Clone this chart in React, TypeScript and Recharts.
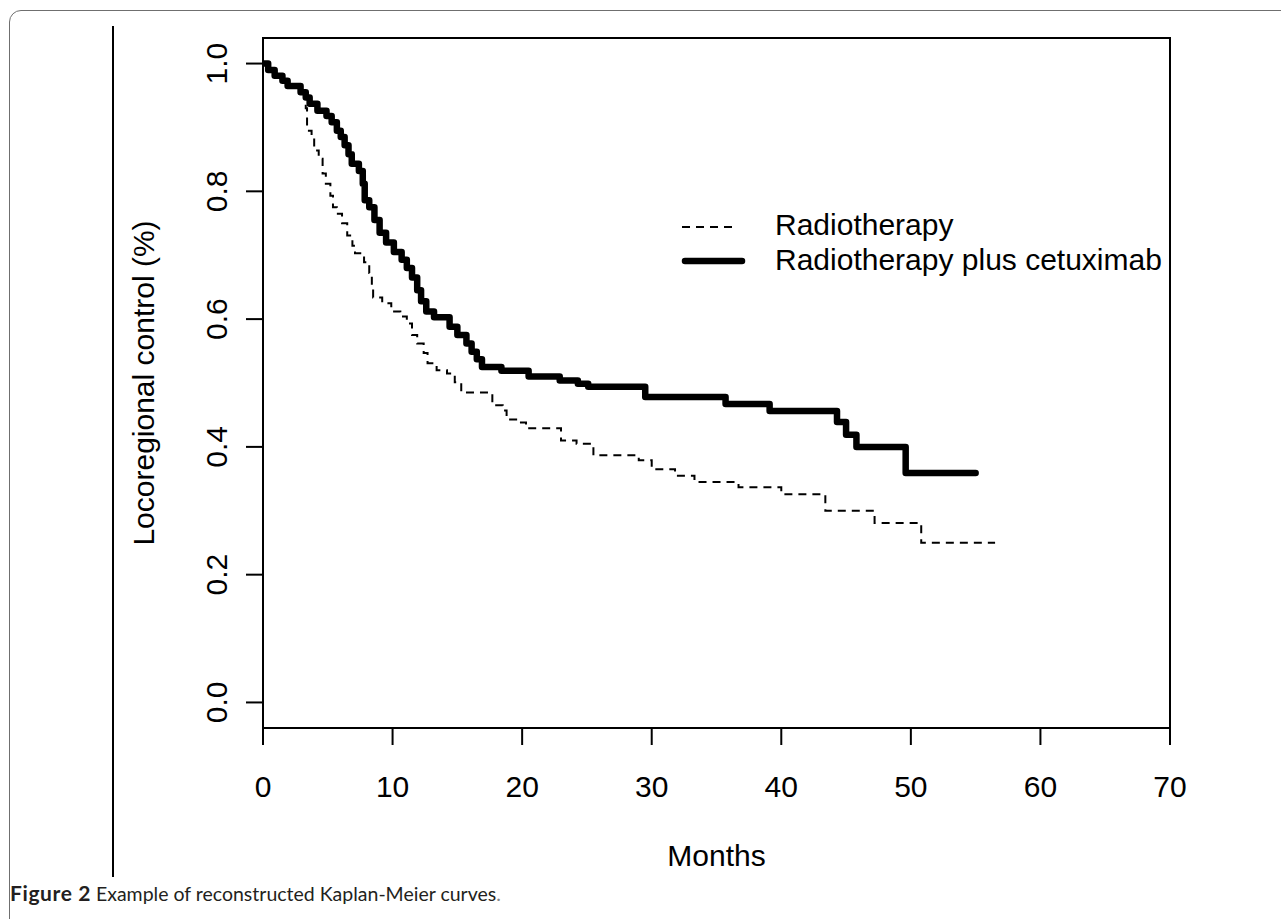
import React from 'react';
import { LineChart, Line, XAxis, YAxis, ReferenceArea, Legend } from 'recharts';

// axis ticks
const xTicks = [0, 10, 20, 30, 40, 50, 60, 70];
const yTicks = [0, 0.2, 0.4, 0.6, 0.8, 1.0];
const seriesNames = ['Radiotherapy', 'Radiotherapy plus cetuximab'];

// Radiotherapy (dashed) – step times (months) and survival after each step
const rtMonths = [
  0, 0.4, 0.9, 1.5, 1.9, 2.9, 3.3, 3.4, 3.75, 3.95, 4.3, 4.6, 4.85, 5.2, 5.4, 5.7, 6.1, 6.5, 6.9,
  7.1, 7.8, 8.2, 8.4, 8.5, 9.2, 9.9, 10.6, 11.1, 11.5, 11.9, 12.4, 12.7, 13.4, 14.2, 14.8, 15.3,
  17.7, 18.5, 18.8, 19.7, 20.3, 23.0, 24.2, 25.5, 29.0, 30.0, 31.8, 33.3, 36.7, 40.0, 43.4, 47.2,
  50.8, 56.5,
];
const rtSurvival = [
  1.0, 0.99, 0.981, 0.973, 0.965, 0.955, 0.93, 0.895, 0.884, 0.864, 0.851, 0.828, 0.812, 0.793,
  0.775, 0.765, 0.75, 0.731, 0.715, 0.703, 0.689, 0.672, 0.65, 0.634, 0.625, 0.612, 0.604, 0.593,
  0.575, 0.562, 0.547, 0.531, 0.52, 0.515, 0.501, 0.485, 0.465, 0.457, 0.443, 0.438, 0.429, 0.41,
  0.405, 0.387, 0.379, 0.365, 0.355, 0.345, 0.337, 0.326, 0.3, 0.281, 0.25, 0.25,
];

// Radiotherapy plus cetuximab (solid)
const cetMonths = [
  0, 0.4, 0.9, 1.5, 1.9, 2.9, 3.3, 3.6, 4.2, 4.9, 5.3, 5.7, 6.0, 6.3, 6.6, 6.85, 7.4, 7.7, 7.85,
  8.2, 8.6, 9.0, 9.5, 10.1, 10.7, 11.1, 11.5, 11.9, 12.2, 12.6, 13.2, 14.4, 15.0, 15.7, 16.1, 16.5,
  16.9, 18.4, 20.5, 22.9, 24.3, 25.1, 29.5, 35.7, 39.1, 44.3, 45.0, 45.8, 49.6, 55.0,
];
const cetSurvival = [
  1.0, 0.99, 0.981, 0.973, 0.965, 0.955, 0.947, 0.937, 0.926, 0.918, 0.908, 0.895, 0.885, 0.872,
  0.858, 0.843, 0.832, 0.812, 0.786, 0.775, 0.755, 0.735, 0.72, 0.705, 0.693, 0.68, 0.665, 0.645,
  0.628, 0.612, 0.603, 0.588, 0.575, 0.562, 0.549, 0.537, 0.525, 0.519, 0.51, 0.504, 0.499, 0.494,
  0.478, 0.467, 0.456, 0.439, 0.419, 0.4, 0.359, 0.359,
];

const toSteps = (months: number[], surv: number[]) =>
  months.map((m, i) => ({ month: m, surv: surv[i] }));

const rtData = toSteps(rtMonths, rtSurvival);
const cetData = toSteps(cetMonths, cetSurvival);

const W = 1281;
const H = 919;
const PLOT_LEFT = 263;
const PLOT_RIGHT = 1170;
const PLOT_TOP = 38;
const PLOT_BOTTOM = 728;
const FONT = '"Liberation Sans", Arial, sans-serif';

const XTick = ({ x, payload }: any) => (
  <text x={x} y={PLOT_BOTTOM + 69} textAnchor="middle" fontSize={30} fontFamily={FONT} fill="#000">
    {payload.value}
  </text>
);

const YTick = ({ y, payload }: any) => {
  const x = PLOT_LEFT - 36;
  return (
    <text x={x} y={y} transform={`rotate(-90 ${x} ${y})`} textAnchor="middle" fontSize={30} fontFamily={FONT} fill="#000">
      {payload.value.toFixed(1)}
    </text>
  );
};

const xTitle = () => (
  <text x={(PLOT_LEFT + PLOT_RIGHT) / 2} y={866} textAnchor="middle" fontSize={30} fontFamily={FONT} fill="#000">
    Months
  </text>
);

const yTitle = () => {
  const x = 154;
  const y = (PLOT_TOP + PLOT_BOTTOM) / 2;
  return (
    <text x={x} y={y} transform={`rotate(-90 ${x} ${y})`} textAnchor="middle" fontSize={30} fontFamily={FONT} fill="#000">
      Locoregional control (%)
    </text>
  );
};

const LEGEND_LEFT = 670;
const LEGEND_TOP = 205;

const KmLegend = () => (
  <svg width={520} height={80} style={{ display: 'block' }}>
    <line x1={12} x2={67} y1={22} y2={22} stroke="#000" strokeWidth={2} strokeDasharray="8 6" />
    <text x={105} y={30} fontSize={30} fontFamily={FONT} fill="#000">{seriesNames[0]}</text>
    <line x1={15} x2={72} y1={56} y2={56} stroke="#000" strokeWidth={6.5} strokeLinecap="round" />
    <text x={105} y={64.5} fontSize={30} fontFamily={FONT} fill="#000">{seriesNames[1]}</text>
  </svg>
);

export default function App() {
  return (
    <div style={{ position: 'fixed', left: 0, top: 0, width: W, height: H, background: '#fff', overflow: 'hidden' }}>
      <div
        style={{
          position: 'absolute', left: 9, top: 10, width: 1320, height: 960,
          border: '1.5px solid #6f6f6f', borderRadius: 12, boxSizing: 'border-box',
        }}
      />
      <div style={{ position: 'absolute', left: 111.5, top: 26, width: 2, height: 851, background: '#000' }} />
      <div style={{ position: 'absolute', left: 0, top: 0 }}>
        <LineChart
          width={W}
          height={H}
          margin={{ top: PLOT_TOP, right: W - PLOT_RIGHT, bottom: H - PLOT_BOTTOM - 100, left: PLOT_LEFT - 100 }}
        >
          <XAxis
            type="number"
            dataKey="month"
            domain={[0, 70]}
            ticks={xTicks}
            allowDataOverflow
            height={100}
            tickSize={17}
            axisLine={{ stroke: '#000', strokeWidth: 2 }}
            tickLine={{ stroke: '#000', strokeWidth: 2 }}
            tick={<XTick />}
            label={xTitle}
          />
          <YAxis
            type="number"
            dataKey="surv"
            domain={[-0.04, 1.04]}
            ticks={yTicks}
            allowDataOverflow
            width={100}
            tickSize={17}
            axisLine={{ stroke: '#000', strokeWidth: 2 }}
            tickLine={{ stroke: '#000', strokeWidth: 2 }}
            tick={<YTick />}
            label={yTitle}
          />
          <ReferenceArea
            x1={0}
            x2={70}
            y1={-0.04}
            y2={1.04}
            fill="#fff"
            fillOpacity={0}
            stroke="#000"
            strokeWidth={2}
            ifOverflow="visible"
          />
          <Line
            data={rtData}
            dataKey="surv"
            name={seriesNames[0]}
            type="stepAfter"
            stroke="#000"
            strokeWidth={2}
            strokeDasharray="8 6"
            dot={false}
            activeDot={false}
            isAnimationActive={false}
          />
          <Line
            data={cetData}
            dataKey="surv"
            name={seriesNames[1]}
            type="stepAfter"
            stroke="#000"
            strokeWidth={6.5}
            strokeLinecap="round"
            strokeLinejoin="round"
            dot={false}
            activeDot={false}
            isAnimationActive={false}
          />
          <Legend
            layout="horizontal"
            align="center"
            verticalAlign="middle"
            content={<KmLegend />}
            wrapperStyle={{ left: LEGEND_LEFT, top: LEGEND_TOP, width: 520 }}
          />
        </LineChart>
      </div>
      <div
        style={{
          position: 'absolute', left: 10, top: 883, fontFamily: 'Lato, "Open Sans", sans-serif',
          fontSize: 19.5, lineHeight: '19.5px', color: '#231f20', whiteSpace: 'nowrap',
        }}
      >
        <b style={{ fontSize: 21, letterSpacing: 0.6 }}>Figure 2</b> Example of reconstructed Kaplan-Meier curves
        <span style={{ color: '#888' }}>.</span>
      </div>
    </div>
  );
}
